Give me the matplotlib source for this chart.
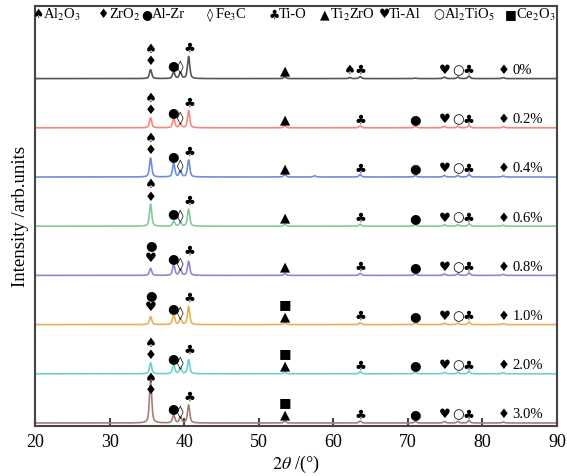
import numpy as np
import matplotlib.pyplot as plt

plt.rcParams['font.family'] = ['Liberation Serif', 'DejaVu Sans']
plt.rcParams['mathtext.fontset'] = 'stix'

# Sample names (Ce content) from top trace to bottom trace
samples = ['0%', '0.2%', '0.4%', '0.6%', '0.8%', '1.0%', '2.0%', '3.0%']
colors = ['#555555', '#f4897b', '#6d8ed9', '#86c99a', '#9b82cf', '#e2b25c', '#6fd0cf', '#a57f7a']

# Reflection positions (2theta, deg) and peak heights for each sample
peak_pos = [35.5, 38.6, 39.5, 40.6, 53.5, 57.5, 62.2, 63.6, 71.0, 74.9, 76.7, 78.2, 82.8]
peak_h = [
    [9, 7, 6, 22, 2.0, 0.0, 1.0, 2.0, 0.5, 1.5, 1.5, 2.5, 1.0],
    [10, 9, 4, 17, 2.0, 0.0, 0.0, 2.0, 1.5, 1.5, 1.5, 2.5, 1.0],
    [19, 14, 6, 17, 2.5, 1.2, 0.0, 2.5, 1.5, 1.5, 1.5, 2.5, 1.0],
    [22, 5, 4, 17, 2.0, 0.0, 0.0, 2.0, 1.5, 1.5, 1.5, 2.5, 1.0],
    [7, 11, 6, 14, 2.0, 0.0, 0.0, 2.0, 1.5, 1.5, 1.5, 2.5, 1.0],
    [8, 10, 6, 18, 2.0, 0.0, 0.0, 2.0, 1.5, 1.5, 1.5, 2.5, 1.0],
    [11, 9, 6, 14, 2.0, 0.0, 0.0, 2.0, 1.5, 1.5, 1.5, 2.5, 1.0],
    [44, 8, 6, 18, 2.0, 0.0, 0.0, 2.0, 1.5, 1.5, 1.5, 2.5, 1.0],
]

# Phase symbols
SPADE, DIAM, DOT, LOZ, CLUB = '\u2660', '\u2666', '\u25cf', '\u25ca', '\u2663'
TRI, HEART, CIRC, SQ = '\u25b2', '\u2665', '\u25cb', '\u25a0'

legend_symbols = [SPADE, DIAM, DOT, LOZ, CLUB, TRI, HEART, CIRC, SQ]
legend_labels = ['Al$_2$O$_3$', 'ZrO$_2$', 'Al-Zr', 'Fe$_3$C', 'Ti-O',
                 'Ti$_2$ZrO', 'Ti-Al', 'Al$_2$TiO$_5$', 'Ce$_2$O$_3$']

# phase pair marking the 35.5 deg reflection (lower, upper)
main_pair = [(DIAM, SPADE)] * 4 + [(HEART, DOT)] * 2 + [(DIAM, SPADE)] * 2
has_ce = [False, False, False, False, False, True, True, True]

x = np.linspace(20, 90, 4000)


def pv(x, x0, h, w=0.36, eta=0.55):
    g = np.exp(-4 * np.log(2) * ((x - x0) / w) ** 2)
    l = 1.0 / (1 + 4 * ((x - x0) / w) ** 2)
    return h * (eta * l + (1 - eta) * g)


fig = plt.figure(figsize=(5.67, 4.76), dpi=100)
ax = fig.add_axes([35 / 567, 1 - 426 / 476, 522 / 567, 420 / 476])

spacing = 49.2
sym_kw = dict(family='DejaVu Sans', fontsize=9.5, ha='center', va='center', color='black')

for k, name in enumerate(samples):
    base = 3 + spacing * (len(samples) - 1 - k)
    h = peak_h[k]
    y = np.full_like(x, base)
    for p, hh in zip(peak_pos, h):
        y += pv(x, p, hh)
    ax.plot(x, y, color=colors[k], lw=1.2)

    # markers over the main reflections
    y0 = base + min(max(h[0] + 7, 17), 32)
    ax.text(35.5, y0, main_pair[k][0], **sym_kw)
    ax.text(35.5, y0 + 12.5, main_pair[k][1], **sym_kw)
    ax.text(38.5, base + max(h[1] + 6, 13), DOT, **sym_kw)
    ax.text(39.5, base + max(h[2] + 5, 10), LOZ, **sym_kw)
    ax.text(40.65, base + max(h[3] + 8, 24), CLUB, **sym_kw)

    ax.text(53.5, base + 8, TRI, **sym_kw)
    if has_ce[k]:
        ax.text(53.5, base + 20, SQ, **sym_kw)
    if k == 0:
        ax.text(62.2, base + 8, SPADE, **sym_kw)
    else:
        ax.text(71.0, base + 8, DOT, **sym_kw)
    ax.text(63.6, base + 8, CLUB, **sym_kw)
    ax.text(74.9, base + 8, HEART, **sym_kw)
    ax.text(76.7, base + 8, CIRC, **sym_kw)
    ax.text(78.1, base + 8, CLUB, **sym_kw)
    ax.text(82.8, base + 8, DIAM, **sym_kw)
    ax.text(84.0, base + 8, name, fontsize=10.5, ha='left', va='center')

# phase key along the top edge
legend_x = [38, 104, 147, 210, 274, 325, 384, 439, 511]
for sx, s, lab in zip(legend_x, legend_symbols, legend_labels):
    fig.text(sx / 567, 1 - 15 / 476, s, family='DejaVu Sans', fontsize=9,
             ha='center', va='center')
    fig.text((sx + 5) / 567, 1 - 15 / 476, lab, fontsize=10.5, ha='left', va='center')

ax.set_xlim(20, 90)
ax.set_ylim(0, 420)
ax.set_xticks([20, 30, 40, 50, 60, 70, 80, 90])
ax.set_yticks([])
ax.tick_params(axis='x', direction='in', length=6, width=1.5, labelsize=13,
               color='#444444', pad=6)
for sp in ax.spines.values():
    sp.set_color('#444444')
    sp.set_linewidth(1.5)

ax.set_xlabel(r'$2\theta$ /(°)', fontsize=13, labelpad=2)
ax.set_ylabel('Intensity /arb.units', fontsize=13.5, labelpad=4)

fig.savefig('out.png', dpi=100)
